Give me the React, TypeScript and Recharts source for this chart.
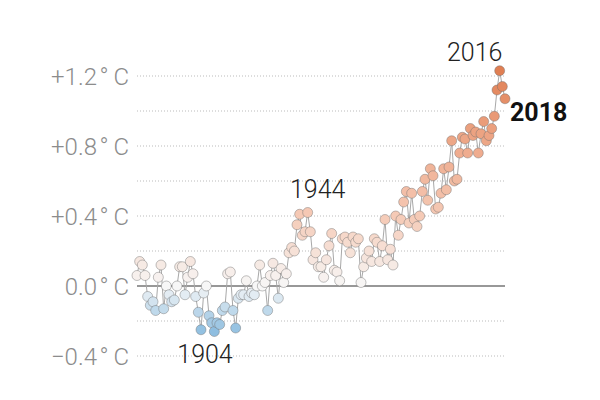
import { ComposedChart, Line, XAxis, YAxis, ReferenceLine, ReferenceDot } from 'recharts';

// Global temperature anomaly vs. 1880-1899 average, °C
const START_YEAR = 1880;
const ANOMALIES = [
  0.06, 0.14, 0.12, 0.06, -0.06, -0.11, -0.09, -0.14, 0.05, 0.12,
  -0.13, 0.0, -0.05, -0.09, -0.08, 0.0, 0.11, 0.11, -0.05, 0.05,
  0.14, 0.07, -0.06, -0.15, -0.25, -0.04, 0.0, -0.17, -0.21, -0.26,
  -0.21, -0.22, -0.14, -0.12, 0.07, 0.08, -0.14, -0.24, -0.07, -0.05,
  -0.05, 0.03, -0.06, -0.04, -0.05, 0.0, 0.12, 0.0, 0.02, -0.14,
  0.06, 0.13, 0.06, -0.07, 0.1, 0.02, 0.07, 0.19, 0.22, 0.2,
  0.35, 0.41, 0.29, 0.31, 0.42, 0.31, 0.15, 0.19, 0.11, 0.11,
  0.05, 0.15, 0.23, 0.3, 0.09, 0.08, 0.03, 0.27, 0.28, 0.25,
  0.19, 0.28, 0.25, 0.27, 0.02, 0.11, 0.16, 0.2, 0.14, 0.27,
  0.25, 0.14, 0.23, 0.38, 0.15, 0.21, 0.12, 0.4, 0.29, 0.38,
  0.48, 0.54, 0.36, 0.53, 0.38, 0.34, 0.4, 0.54, 0.61, 0.49,
  0.67, 0.63, 0.44, 0.45, 0.53, 0.67, 0.55, 0.68, 0.83, 0.6,
  0.61, 0.76, 0.85, 0.84, 0.76, 0.9, 0.86, 0.88, 0.76, 0.87,
  0.94, 0.83, 0.86, 0.9, 0.97, 1.12, 1.23, 1.14, 1.07,
];

const TICK_VALUES = [1.2, 0.8, 0.4, 0, -0.4];
const GRID_VALUES = [1.2, 1.0, 0.8, 0.6, 0.4, 0.2, -0.2, -0.4];

const ANNOTATIONS = [
  { year: 1904, text: '1904', dx: 4, dy: 33, anchor: 'middle', bold: false },
  { year: 1944, text: '1944', dx: 10, dy: -15, anchor: 'middle', bold: false },
  { year: 2016, text: '2016', dx: -25, dy: -10, anchor: 'middle', bold: false },
  { year: 2018, text: '2018', dx: 5, dy: 22, anchor: 'start', bold: true },
];

const data = ANOMALIES.map((v, i) => ({ year: START_YEAR + i, value: v }));

const COLOR_STOPS: [number, [number, number, number]][] = [
  [-0.28, [135, 186, 222]],
  [0, [247, 247, 247]],
  [0.4, [245, 202, 182]],
  [0.85, [237, 165, 133]],
  [1.25, [223, 125, 80]],
];

function colorFor(v: number) {
  if (v <= COLOR_STOPS[0][0]) return `rgb(${COLOR_STOPS[0][1].join(',')})`;
  for (let i = 1; i < COLOR_STOPS.length; i++) {
    const [v1, c1] = COLOR_STOPS[i];
    const [v0, c0] = COLOR_STOPS[i - 1];
    if (v <= v1) {
      const t = (v - v0) / (v1 - v0);
      const c = c0.map((x, k) => Math.round(x + (c1[k] - x) * t));
      return `rgb(${c.join(',')})`;
    }
  }
  return `rgb(${COLOR_STOPS[COLOR_STOPS.length - 1][1].join(',')})`;
}

// degree sign sits between a hair space and a thin space, as in the original
const fmt = (v: number) => {
  const sign = v > 0 ? '+' : v < 0 ? '\u2212' : '';
  return `${sign}${Math.abs(v).toFixed(1)}\u200A°\u2009C`;
};

const FONT = 'Roboto, "Noto Sans", sans-serif';

export default function App() {
  return (
    <div style={{ position: 'absolute', left: 0, top: 0, width: 600, height: 400, background: '#fff' }}>
      <ComposedChart width={600} height={400} data={data} margin={{ top: 41, right: 95, bottom: 26.5, left: 0 }}>
        <XAxis dataKey="year" type="number" domain={[1880, 2018]} hide />
        <YAxis
          type="number"
          domain={[-0.5, 1.4]}
          ticks={TICK_VALUES}
          width={137}
          axisLine={false}
          tickLine={false}
          tickMargin={2}
          tickFormatter={fmt}
          tick={{ fill: '#8c8c8c', fontSize: 24, fontFamily: FONT, fontWeight: 300 }}
        />
        {GRID_VALUES.map(g => (
          <ReferenceLine key={g} y={g} stroke="#bbb" strokeDasharray="1 2" strokeWidth={1} />
        ))}
        <ReferenceLine y={0} stroke="#333" strokeWidth={1.2} />
        <Line
          dataKey="value"
          type="linear"
          stroke="#a8a8a8"
          strokeWidth={1}
          isAnimationActive={false}
          dot={(p: any) => (
            <circle
              key={p.index}
              cx={p.cx}
              cy={p.cy}
              r={5}
              fill={colorFor(p.payload.value)}
              stroke="#6f6f6f"
              strokeOpacity={0.55}
              strokeWidth={0.8}
            />
          )}
          activeDot={false}
        />
        {ANNOTATIONS.map(a => (
          <ReferenceDot
            key={a.year}
            x={a.year}
            y={ANOMALIES[a.year - START_YEAR]}
            r={0}
            fill="none"
            stroke="none"
            label={(props: any) => {
              const vb = props.viewBox;
              return (
                <text
                  x={vb.x + vb.width / 2 + a.dx}
                  y={vb.y + vb.height / 2 + a.dy}
                  textAnchor={a.anchor}
                  fontFamily={FONT}
                  fontSize={25}
                  fontWeight={a.bold ? 700 : 300}
                  fill={a.bold ? '#111' : '#222'}
                >
                  {a.text}
                </text>
              );
            }}
          />
        ))}
      </ComposedChart>
    </div>
  );
}
